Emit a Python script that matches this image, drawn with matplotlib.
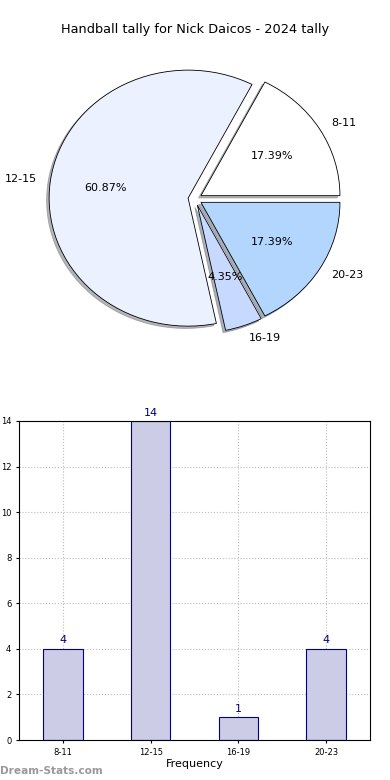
import matplotlib
matplotlib.use("Agg")
import matplotlib.pyplot as plt

categories = ["8-11", "12-15", "16-19", "20-23"]
counts = [4, 14, 1, 4]
pie_colors = ["#FFFFFF", "#EBF1FF", "#C8D9FF", "#B3D6FF"]
title = "Handball tally for Nick Daicos - 2024 tally"

fig = plt.figure(figsize=(3.9, 7.8), dpi=100)
fig.text(0.5, 1 - 30 / 780, title, ha="center", va="center", fontsize=9.3)

# Pie
ax1 = fig.add_axes([21.25 / 390, 421 / 780, 347.5 / 390, 320 / 780])
wedges, texts, autotexts = ax1.pie(
    counts, labels=categories, colors=pie_colors, explode=[0.05] * 4,
    autopct="%.2f%%", startangle=0,
    shadow={"ox": -0.013, "oy": -0.013, "shade": 0.55},
    pctdistance=0.6, labeldistance=1.1,
    wedgeprops=dict(edgecolor="black", linewidth=0.6),
    textprops=dict(fontsize=8),
)
ax1.set_aspect("auto")
ax1.set_xlim(-1.25, 1.25)
ax1.set_ylim(-1.25, 1.25)
ax1.axis("off")

# Bar
ax2 = fig.add_axes([19 / 390, 40 / 780, 351 / 390, 319 / 780])
x = range(len(categories))
ax2.bar(x, counts, width=0.45, color="#CCCCE6", edgecolor="#000080", linewidth=0.8, zorder=2)
for xi, v in zip(x, counts):
    ax2.text(xi, v + 0.15, str(v), ha="center", va="bottom", color="#000080", fontsize=8)
ax2.set_xlim(-0.5, 3.5)
ax2.set_ylim(0, 14)
ax2.set_yticks(range(0, 15, 2))
ax2.set_xticks(list(x))
ax2.set_xticklabels(categories)
ax2.tick_params(labelsize=6, length=2)
ax2.grid(True, linestyle=":", color="#BBBBBB", linewidth=0.8, zorder=0)
ax2.set_axisbelow(True)
ax2.set_xlabel("Frequency", fontsize=8, labelpad=2)
ax2.set_ylabel("Handball Tally", fontsize=8, labelpad=2)
ax2.yaxis.set_label_coords(-0.06, 0.5)

fig.text(0.0, 9 / 780, "Dream-Stats.com", color="#999999", fontsize=7.6,
         fontweight="bold", ha="left", va="center")

fig.savefig("out.png", dpi=100)
